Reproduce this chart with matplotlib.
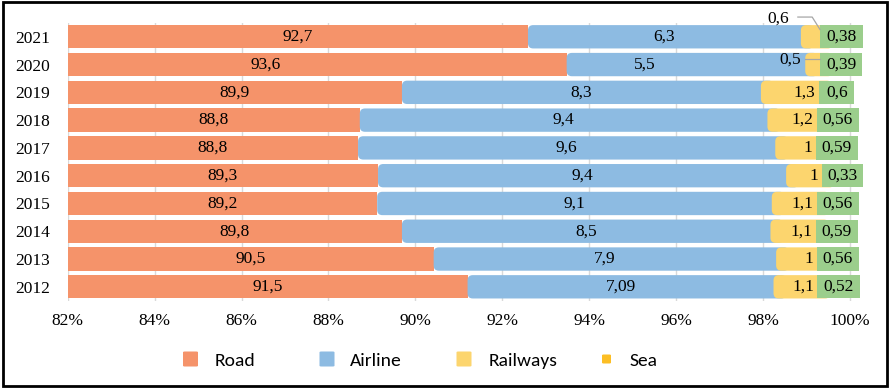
import matplotlib
matplotlib.use("Agg")
import matplotlib.pyplot as plt
from matplotlib.patches import FancyBboxPatch, Rectangle
import numpy as np

# data (bottom row first)
years = ['2012', '2013', '2014', '2015', '2016', '2017', '2018', '2019', '2020', '2021']
road = [91.5, 90.5, 89.8, 89.2, 89.3, 88.8, 88.8, 89.9, 93.6, 92.7]
airline = [7.09, 7.9, 8.5, 9.1, 9.4, 9.6, 9.4, 8.3, 5.5, 6.3]
railways = [1.1, 1, 1.1, 1.1, 1, 1, 1.2, 1.3, 0.5, 0.6]
sea = [0.52, 0.56, 0.59, 0.56, 0.33, 0.59, 0.56, 0.6, 0.39, 0.38]

# segment widths as drawn in the original chart (%)
road_w = [91.20, 90.42, 89.69, 89.12, 89.14, 88.68, 88.72, 89.69, 93.48, 92.59]
air_w = [7.04, 7.88, 8.48, 9.08, 9.39, 9.60, 9.38, 8.26, 5.49, 6.28]
rail_w = [1.01, 0.93, 1.05, 1.03, 0.82, 0.94, 1.13, 1.34, 0.34, 0.44]
sea_w = [0.98, 0.97, 0.96, 0.97, 0.96, 0.96, 0.97, 0.81, 0.97, 0.98]

xticks = [82, 84, 86, 88, 90, 92, 94, 96, 98, 100]

c_road = '#F5936A'
c_air = '#8DBBE2'
c_rail = '#FCD56E'
c_sea = '#9BCE8C'
c_sea_leg = '#FCBE24'

serif = 'Liberation Serif'
fs = 12.5

fig = plt.figure(figsize=(8.9, 3.88), dpi=100)
ax = fig.add_axes([0.0761, 0.225, 0.8985, 0.716])

y = np.arange(len(years))
h = 0.84
road_w = np.array(road_w)
air_w = np.array(air_w)
rail_w = np.array(rail_w)
sea_w = np.array(sea_w)
air_end = road_w + air_w
rail_end = air_end + rail_w

ax.barh(y, road_w, height=h, color=c_road, zorder=2)

# airline / railways segments have rounded left ends
r = 0.12
asp = 1.56
for i in range(len(y)):
    ax.add_patch(FancyBboxPatch((road_w[i], y[i] - h / 2), air_w[i] + 0.3, h,
                                boxstyle=f"round,pad=0,rounding_size={r}",
                                mutation_aspect=asp, fc=c_air, ec='none', zorder=3))
    ax.add_patch(FancyBboxPatch((air_end[i], y[i] - h / 2), rail_w[i] + 0.3, h,
                                boxstyle=f"round,pad=0,rounding_size={r}",
                                mutation_aspect=asp, fc=c_rail, ec='none', zorder=4))
ax.barh(y, sea_w, left=rail_end, height=h, color=c_sea, zorder=5)

def fmt(v):
    return f"{v:g}".replace('.', ',')

# labels
road_nudge = {8: -1.18}
air_nudge = {8: -0.95}
for i in range(len(y)):
    ax.text((82 + road_w[i]) / 2 + road_nudge.get(i, 0), y[i], fmt(road[i]),
            ha='center', va='center', family=serif, fontsize=fs, zorder=6)
    ax.text(road_w[i] + air_w[i] / 2 + air_nudge.get(i, 0), y[i], fmt(airline[i]),
            ha='center', va='center', family=serif, fontsize=fs, zorder=6)
    if i < 8:
        ax.text(rail_end[i] - 0.08, y[i], fmt(railways[i]),
                ha='right', va='center', family=serif, fontsize=fs, zorder=6)
    ax.text(rail_end[i] + sea_w[i] / 2, y[i], fmt(sea[i]),
            ha='center', va='center', family=serif, fontsize=fs, zorder=6)

# outside labels with leader lines
ax.text(98.35, 9.66, fmt(railways[9]), ha='center', va='center',
        family=serif, fontsize=fs, clip_on=False, zorder=6)
ax.plot([98.8, 99.13, rail_end[9]], [9.71, 9.71, 9.26], color='#A6A6A6',
        lw=0.9, clip_on=False, zorder=6)
ax.text(98.62, 8.17, fmt(railways[8]), ha='center', va='center',
        family=serif, fontsize=fs, zorder=6)
ax.plot([98.97, rail_end[8]], [8.2, 8.2], color='#A6A6A6', lw=0.9, zorder=6)

ax.set_xlim(82, 100.4)
ax.set_ylim(-0.5, 9.5)
ax.set_xticks(xticks)
ax.set_xticklabels([f"{t}%" for t in xticks], family=serif, fontsize=fs)
ax.set_yticks(y)
ax.set_yticklabels(years, family=serif, fontsize=fs)
ax.tick_params(length=0)
ax.tick_params(axis='x', pad=9)
ax.tick_params(axis='y', pad=13)
ax.grid(axis='x', color='#D9D9D9', lw=1, zorder=0)
ax.set_axisbelow(True)
for s in ax.spines.values():
    s.set_visible(False)

# legend drawn by hand
W, H = 890, 388
legend_items = [('Road', c_road, 190.5, 15, 215),
                ('Airline', c_air, 327, 15, 350),
                ('Railways', c_rail, 464, 15, 489),
                ('Sea', c_sea_leg, 606.5, 9, 630)]
for name, col, mx, ms, tx in legend_items:
    my = 359
    fig.patches.append(FancyBboxPatch(((mx - ms / 2) / W, 1 - (my + ms / 2) / H), ms / W, ms / H,
                                      boxstyle="round,pad=0,rounding_size=0.002",
                                      transform=fig.transFigure, fc=col, ec='none'))
    fig.text(tx / W, 1 - 366 / H, name, family=['Carlito', 'Lato'], fontsize=14, va='baseline')

fig.patches.append(Rectangle((0.003, 0.005), 0.994, 0.99, transform=fig.transFigure,
                             fill=False, ec='black', lw=2))

fig.savefig('out.png', dpi=100)
